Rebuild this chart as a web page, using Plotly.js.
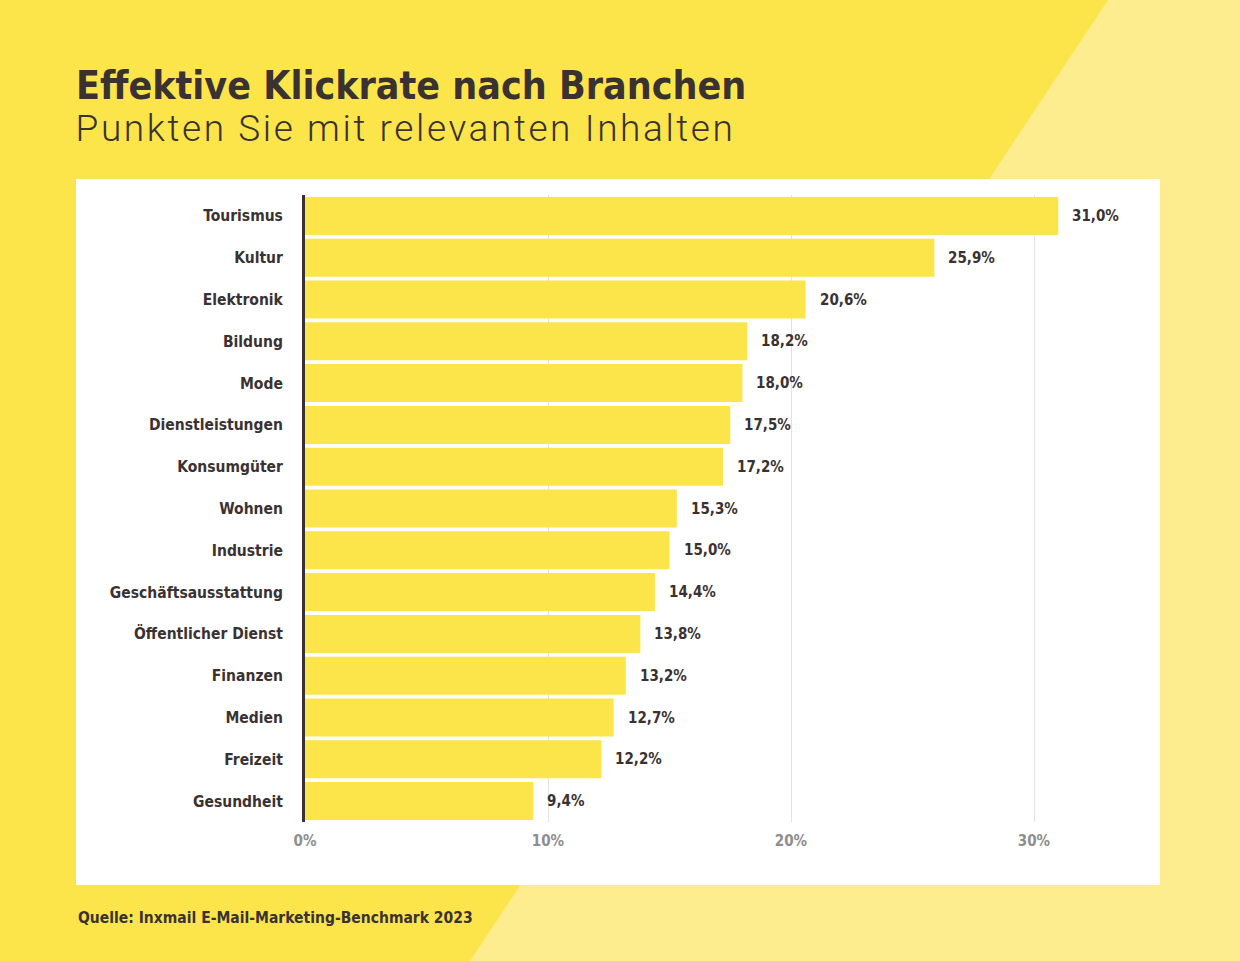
<!DOCTYPE html>
<html>
<head>
<meta charset="utf-8">
<script src="https://cdn.plot.ly/plotly-3.0.1.min.js"></script>
<style>
html,body{margin:0;padding:0;background:#FBE54A;}
#chart{width:1240px;height:961px;}
#chart g.annotation[data-index="16"] text{letter-spacing:2.6px;}
</style>
</head>
<body>
<div id="chart"></div>
<script>
// ---- data ----
const categories = ["Tourismus","Kultur","Elektronik","Bildung","Mode","Dienstleistungen","Konsumgüter","Wohnen","Industrie","Geschäftsausstattung","Öffentlicher Dienst","Finanzen","Medien","Freizeit","Gesundheit"];
const values = [31.0,25.9,20.6,18.2,18.0,17.5,17.2,15.3,15.0,14.4,13.8,13.2,12.7,12.2,9.4];
const tickValues = [0,10,20,30];
const tickLabels = ["0%","10%","20%","30%"];
const titleText = "Effektive Klickrate nach Branchen";
const subtitleText = "Punkten Sie mit relevanten Inhalten";
const sourceText = "Quelle: Inxmail E-Mail-Marketing-Benchmark 2023";

// ---- styling ----
const W = 1240, H = 961;
const M = {l:305, r:100, t:195, b:139};
const plotW = W - M.l - M.r, plotH = H - M.t - M.b;
const fx = px => (px - M.l) / plotW;
const fy = py => (H - M.b - py) / plotH;
const YEL = "#FBE54A", LIGHT = "#FDED8E", DARK = "#3A3232", GRAY = "#8E8E8E";
const BOLD = "'DejaVu Sans Condensed', 'DejaVu Sans', sans-serif";
const LIGHTF = "Roboto, 'DejaVu Sans', sans-serif";

const trace = {
  type: "bar",
  orientation: "h",
  y: categories,
  x: values,
  width: 0.91,
  marker: {color: YEL},
  hoverinfo: "none"
};

const valueAnnotations = categories.map((c, i) => ({
  x: values[i], y: c, xref: "x", yref: "y",
  text: values[i].toFixed(1).replace(".", ",") + "%",
  showarrow: false, xanchor: "left", xshift: 12,
  font: {family: BOLD, size: 15, weight: 700, color: DARK}
}));

const layout = {
  width: W, height: H,
  margin: M,
  paper_bgcolor: YEL,
  plot_bgcolor: "#FFFFFF",
  showlegend: false,
  separators: ",.",
  xaxis: {
    range: [0, plotW / 24.3],
    tickvals: tickValues, ticktext: tickLabels,
    showgrid: true, gridcolor: "#E2E2E2", gridwidth: 1,
    zeroline: false, showline: false, ticks: "",
    ticklabelstandoff: 8,
    tickfont: {family: BOLD, size: 15, weight: 700, color: GRAY},
    fixedrange: true
  },
  yaxis: {
    autorange: "reversed",
    showgrid: false, zeroline: false,
    showline: true, linecolor: DARK, linewidth: 3,
    ticks: "", ticklabelstandoff: 16,
    tickfont: {family: BOLD, size: 15.5, weight: 700, color: DARK},
    fixedrange: true
  },
  shapes: [
    {type: "path", xref: "paper", yref: "paper", layer: "below",
     path: `M ${fx(1108)} ${fy(0)} L ${fx(1240)} ${fy(0)} L ${fx(1240)} ${fy(961)} L ${fx(470)} ${fy(961)} Z`,
     fillcolor: LIGHT, line: {width: 0}},
    {type: "rect", xref: "paper", yref: "paper", layer: "below",
     x0: fx(76), x1: fx(1160), y0: fy(179), y1: fy(885),
     fillcolor: "#FFFFFF", line: {width: 0}}
  ],
  annotations: valueAnnotations.concat([
    {xref: "paper", yref: "paper", x: fx(74), y: fy(86), xanchor: "left", yanchor: "middle",
     text: titleText, showarrow: false,
     font: {family: BOLD, size: 39, weight: 700, color: DARK}},
    {xref: "paper", yref: "paper", x: fx(74), y: fy(128), xanchor: "left", yanchor: "middle",
     xshift: 45,
     text: subtitleText, showarrow: false,
     font: {family: LIGHTF, size: 37, weight: 300, color: DARK}},
    {xref: "paper", yref: "paper", x: fx(76), y: fy(918), xanchor: "left", yanchor: "middle",
     text: sourceText, showarrow: false,
     font: {family: BOLD, size: 15.5, weight: 700, color: DARK}}
  ])
};

Plotly.newPlot("chart", [trace], layout, {displayModeBar: false, staticPlot: true});
</script>
</body>
</html>
